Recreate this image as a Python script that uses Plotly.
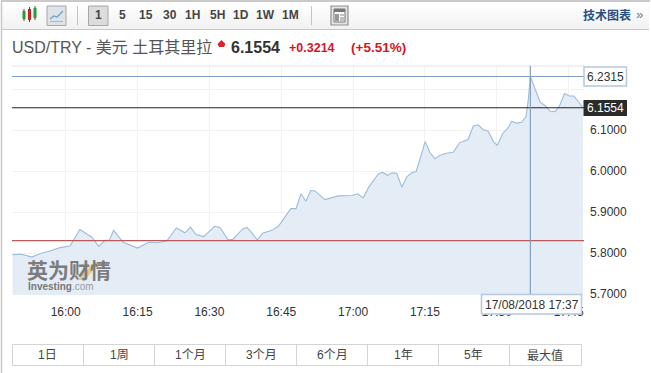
import plotly.graph_objects as go

# minutes after 16:00 and USD/TRY price
minutes = [-11.1,-9.2,-7.1,-5.0,-3.3,-1.2,0.9,2.95,5.4,6.9,8.2,9.1,10,12,15,17.3,19,21.1,23.1,24.9,26.05,27.2,28.8,31.1,32.2,
           33.9,34.9,36.9,37.9,40,41.1,43,44.4,47,48.1,49.1,50.15,51.15,52.05,54.1,56.9,59.7,61,62.1,63.2,65.3,66.2,67.2,68.1,69.1,
           70.2,71.2,72.25,73.15,73.95,75.05,76,77.1,78.1,79.2,80.9,82.2,84,85.1,86.1,87.2,88.2,89.3,90.1,91.3,92.2,93.1,94.2,95.2,96.1,
           96.6,97,97.95,99.05,100.05,101.15,102.15,103.05,104.15,105.1,106.1,107,108]
prices = [5.798,5.799,5.792,5.802,5.807,5.815,5.819,5.859,5.841,5.818,5.833,5.833,5.857,5.828,5.814,5.828,5.827,5.831,5.863,5.851,5.865,5.847,5.842,5.867,5.864,
          5.834,5.835,5.860,5.864,5.834,5.850,5.857,5.867,5.910,5.910,5.946,5.928,5.954,5.953,5.932,5.941,5.942,5.946,5.936,5.961,5.995,5.998,5.991,5.997,5.996,
          5.962,5.987,5.997,6.000,6.030,6.073,6.047,6.031,6.039,6.044,6.047,6.070,6.078,6.111,6.114,6.102,6.098,6.073,6.064,6.094,6.104,6.122,6.118,6.120,6.134,
          6.177,6.2315,6.202,6.169,6.161,6.147,6.146,6.159,6.190,6.184,6.184,6.169,6.1554]
x_tick_minutes = [0, 15, 30, 45, 60, 75, 90, 105]
x_tick_labels = ["16:00", "16:15", "16:30", "16:45", "17:00", "17:15", "17:30", "17:45"]
y_tick_values = [5.7, 5.8, 5.9, 6.0, 6.1, 6.2]
y_tick_labels = ["5.7000", "5.8000", "5.9000", "6.0000", "6.1000", ""]
prev_close = 5.832
last_price = 6.1554
cursor_minute = 97
cursor_price = 6.2315
interval_labels = ["1", "5", "15", "30", "1H", "5H", "1D", "1W", "1M"]
range_labels = ["1日", "1周", "1个月", "3个月", "6个月", "1年", "5年", "最大值"]

W, H = 651, 373
FONT = "Liberation Sans, Noto Sans CJK SC, sans-serif"
L, R, T, B = 12, 584, 66, 295
X0 = 65.7
PX_PER_MIN = 4.79
PX_PER_UNIT = 411.0
Y57 = 294.9

def px(x): return x / W
def py(y): return 1 - y / H

shapes, annots = [], []

def rect(x0, y0, x1, y1, fill=None, line=None, lw=1, layer="above"):
    shapes.append(dict(type="rect", xref="paper", yref="paper", x0=px(x0), x1=px(x1), y0=py(y0), y1=py(y1),
                       fillcolor=fill or "rgba(0,0,0,0)", line=dict(color=line or "rgba(0,0,0,0)", width=lw if line else 0), layer=layer))

def seg(x0, y0, x1, y1, color, lw=1, layer="above"):
    shapes.append(dict(type="line", xref="paper", yref="paper", x0=px(x0), x1=px(x1), y0=py(y0), y1=py(y1),
                       line=dict(color=color, width=lw), layer=layer))

def text(x, y, s, size=12, color="#333", anchor="left", bold=False, family=FONT):
    annots.append(dict(xref="paper", yref="paper", x=px(x), y=py(y), text=f"<b>{s}</b>" if bold else s, showarrow=False,
                       xanchor=anchor, yanchor="middle", font=dict(size=size, color=color, family=family), borderpad=0, borderwidth=0))

# toolbar gradient
for i in range(27):
    g = 255 - int(i * 14 / 26)
    rect(2, 2 + i, 649, 3 + i, fill=f"rgb({g},{g},{g})", layer="below")
seg(1, 1, 650, 1, "#b8b8b8", 1.5)
seg(2, 29.5, 649, 29.5, "#c8c8c8", 1)
seg(1.5, 1, 1.5, 373, "#c8c8c8", 1.5)

# candlestick icon
for cx, c, t, b in [(24, "#2a9a3a", 11, 19), (29.5, "#d02020", 9, 20), (35, "#2a9a3a", 8, 18)]:
    seg(cx, t - 2, cx, b + 2, "#444", 1)
    rect(cx - 1.5, t, cx + 1.5, b, fill=c)
# line icon button
rect(47, 6, 66, 25.5, fill="#dde3e8", line="#a8a8a8")
shapes.append(dict(type="path", xref="paper", yref="paper", layer="above",
                   path=f"M {px(50)} {py(19)} L {px(54)} {py(16)} L {px(57)} {py(17)} L {px(63)} {py(11)}",
                   line=dict(color="#6f9cc5", width=1.2)))
seg(50, 21.5, 63, 21.5, "#a8b8c8", 1)
seg(77.5, 6, 77.5, 25, "#c4c4c4", 1)
rect(88.5, 6, 108, 25.5, fill="#dcdcdc", line="#a8a8a8")
for cx, s in zip([98, 122, 146, 170, 193, 217, 241, 265, 290], interval_labels):
    text(cx, 15, s, 12, "#444", "center", True)
seg(311.5, 6, 311.5, 25, "#c4c4c4", 1)
# layout icon button
rect(331, 6, 348, 25, fill="#e4e4e4", line="#909090", lw=1.2)
rect(334, 9, 345, 22, fill="#fafafa", line="#777")
rect(334, 9, 345, 12, fill="#777")
for yy in (15, 18, 20):
    seg(340, yy, 344, yy, "#888")
rect(335, 14, 339, 21, fill="#999")
text(631, 15, "技术图表", 12, "#2a4f85", "right", True)
text(636, 14, "»", 13, "#5a7da8", "left")

# title row
text(12, 48, "USD/TRY - 美元 土耳其里拉", 16, "#555")
shapes.append(dict(type="path", xref="paper", yref="paper", layer="above", fillcolor="#e0202a", line=dict(width=0),
                   path=f"M {px(221.5)} {py(40)} L {px(225.5)} {py(44)} L {px(224)} {py(47)} L {px(219)} {py(47)} L {px(217.5)} {py(44)} Z"))
text(231, 48, "6.1554", 16, "#333", "left", True)
text(289, 48, "+0.3214", 12.5, "#d8141e", "left", True)
text(351, 48, "(+5.51%)", 13.5, "#d8141e", "left", True)

# frame of plot
seg(L, T, R, T, "#e4e4e4", 1)

# reference lines through the library's axes
def hline(value, color, width=1):
    shapes.append(dict(type="line", xref="x", yref="y", x0=(L - X0) / PX_PER_MIN, x1=(R - X0) / PX_PER_MIN,
                       y0=value, y1=value, line=dict(color=color, width=width), layer="above"))
hline(prev_close, "#b85a5a", 1.2)
hline(last_price, "#222222", 1.1)
hline(cursor_price, "#7f9fc4", 1.1)
shapes.append(dict(type="line", xref="x", yref="paper", x0=cursor_minute, x1=cursor_minute, y0=py(B), y1=py(T),
                   line=dict(color="#7f9fc4", width=1.2), layer="above"))

# price labels
rect(584, 67, 626.5, 86, fill="#ffffff", line="#b4c8de", lw=1.5)
text(605, 76.5, f"{cursor_price:.4f}", 12, "#333", "center")
rect(583.5, 100, 627, 116, fill="#2b2b2b")
text(605.5, 107.5, f"{last_price:.4f}", 12, "#ffffff", "center")
rect(481.5, 294.5, 581.5, 314, fill="#ffffff", line="#b4c8de", lw=1.5)
text(531.5, 304.5, "17/08/2018 17:37", 12, "#333", "center")

# watermark
text(27, 270, "英为财情", 21, "#7c7c7c", "left", True)
shapes.append(dict(type="path", xref="paper", yref="paper", layer="above", fillcolor="rgba(232,190,90,0.75)", line=dict(width=0),
                   path=f"M {px(78)} {py(280)} L {px(85)} {py(280)} L {px(100)} {py(262)} L {px(94)} {py(262)} Z"))
annots.append(dict(xref="paper", yref="paper", x=px(26), y=py(286), showarrow=False, xanchor="left", yanchor="middle",
                   text="<b>Investing</b><span style='color:#9a9a9a'>.com</span>",
                   font=dict(size=10, color="#777", family=FONT)))

# range selector row
edges = [12, 83.5, 154.5, 225.5, 296.5, 367.5, 438.5, 509.5, 581]
rect(12.5, 344.5, 581.5, 365.5, fill="#ffffff", line="#d4d4d4", layer="below")
for e in edges[1:-1]:
    seg(e, 344.5, e, 365.5, "#d4d4d4")
for a, b, s in zip(edges[:-1], edges[1:], range_labels):
    text((a + b) / 2, 355, s, 12, "#444", "center")

fig = go.Figure(go.Scatter(x=minutes, y=prices, mode="lines", fill="tozeroy",
                           line=dict(color="#9dbcd8", width=1.1), fillcolor="#e4edf5", hoverinfo="skip"))
fig.update_layout(
    width=W, height=H, margin=dict(l=0, r=0, t=0, b=0, pad=0, autoexpand=False), paper_bgcolor="#ffffff", plot_bgcolor="#ffffff",
    showlegend=False, shapes=shapes, annotations=annots, font=dict(family=FONT),
    xaxis=dict(domain=[px(L), px(R)], range=[(L - X0) / PX_PER_MIN, (R - X0) / PX_PER_MIN], tickvals=x_tick_minutes,
               ticktext=x_tick_labels, showgrid=True, gridcolor="#f2f2f2", gridwidth=1, zeroline=False, showline=False, ticks="",
               tickfont=dict(size=12, color="#333"), anchor="y", ticklabelstandoff=8, layer="above traces"),
    yaxis=dict(domain=[py(B), py(T)], range=[5.7 + (Y57 - B) / PX_PER_UNIT, 5.7 + (Y57 - T) / PX_PER_UNIT], side="right",
               tickvals=y_tick_values, ticktext=y_tick_labels, showgrid=True, gridcolor="#f2f2f2", gridwidth=1,
               zeroline=False, showline=False, ticks="", tickfont=dict(size=12, color="#333"), anchor="x",
               ticklabelstandoff=5, ticklabelshift=-1, layer="above traces"),
)
fig.write_html("out.html", config={"displayModeBar": False, "responsive": False},
               post_script="document.body.style.margin='0';document.documentElement.style.overflow='hidden';document.body.style.overflow='hidden';")
